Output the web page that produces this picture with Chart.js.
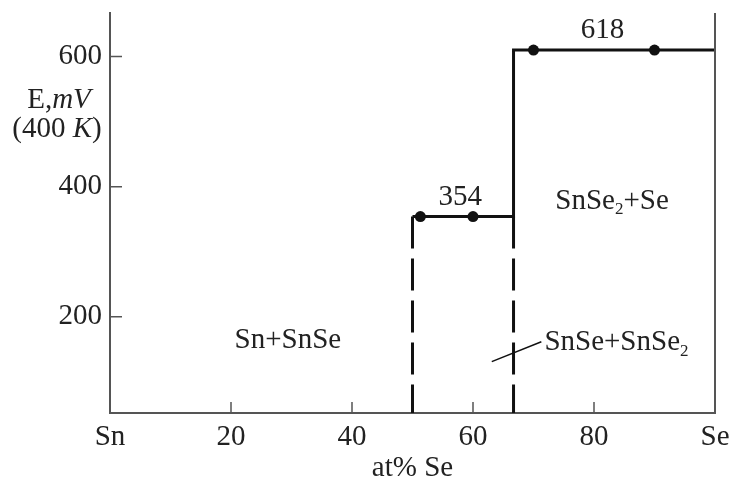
<!DOCTYPE html>
<html>
<head>
<meta charset="utf-8">
<script src="https://cdn.jsdelivr.net/npm/chart.js@4/dist/chart.umd.min.js"></script>
<style>
  body { margin: 0; background: #fff; }
  #wrap { width: 732px; height: 482px; }
</style>
</head>
<body>
<div id="wrap"><canvas id="myChart" width="732" height="482"></canvas></div>
<script>
// at% Se vs E (mV, 400 K)
const stepX = [50, 66.7, 66.7, 100];
const stepE = [354, 354, 610, 610];
const pointX = [51.3, 60, 70, 90];
const pointE = [354, 354, 610, 610];
const dashX = [50, 66.7];
const dashTopE = 354;
const xTicks = [0, 20, 40, 60, 80, 100];
const xTickLabels = ["Sn", "20", "40", "60", "80", "Se"];
const yTicks = [200, 400, 600];

const FONT = "'Liberation Serif', 'Times New Roman', serif";
const AXIS = "#555";
const INK = "#111";

// text placed in data units: [x, E, align, parts]
const notes = [
  [57.9, 383, "center", [{ t: "354" }]],
  [81.4, 640, "center", [{ t: "618" }]],
  [73.6, 378, "left", [{ t: "SnSe" }, { t: "2", sub: true }, { t: "+Se" }]],
  [29.4, 163, "center", [{ t: "Sn+SnSe" }]],
  [71.8, 161, "left", [{ t: "SnSe+SnSe" }, { t: "2", sub: true }]],
];
const pointer = [[63.1, 131], [71.3, 161.5]];

const datasets = [
  {
    data: stepX.map((x, i) => ({ x, y: stepE[i] })),
    borderColor: INK,
    borderWidth: 3,
    pointRadius: 0,
  },
  {
    data: pointX.map((x, i) => ({ x, y: pointE[i] })),
    showLine: false,
    pointRadius: 5.5,
    pointBackgroundColor: INK,
    pointBorderWidth: 0,
  },
];
dashX.forEach((x) => {
  datasets.push({
    data: [{ x, y: dashTopE }, { x, y: 52 }],
    borderColor: INK,
    borderWidth: 3,
    borderDash: [32, 10],
    pointRadius: 0,
  });
});

function drawParts(ctx, parts, x, y, align) {
  const big = "29px " + FONT;
  const small = "17px " + FONT;
  let w = 0;
  parts.forEach((p) => {
    ctx.font = p.sub ? small : (p.it ? "italic " : "") + big;
    w += ctx.measureText(p.t).width;
  });
  let cx = align === "center" ? x - w / 2 : x;
  ctx.textAlign = "left";
  ctx.textBaseline = "middle";
  parts.forEach((p) => {
    ctx.font = p.sub ? small : (p.it ? "italic " : "") + big;
    ctx.fillText(p.t, cx, p.sub ? y + 9 : y);
    cx += ctx.measureText(p.t).width;
  });
}

const extras = {
  id: "extras",
  afterDraw(chart) {
    const ctx = chart.ctx;
    const xs = chart.scales.x;
    const ys = chart.scales.y;
    const a = chart.chartArea;
    ctx.save();
    // right frame line
    ctx.strokeStyle = AXIS;
    ctx.lineWidth = 2;
    ctx.beginPath();
    ctx.moveTo(a.right, a.top);
    ctx.lineTo(a.right, a.bottom);
    ctx.stroke();
    // inward ticks
    ctx.lineWidth = 1.5;
    ctx.beginPath();
    xTicks.slice(1, -1).forEach((v) => {
      const px = xs.getPixelForValue(v);
      ctx.moveTo(px, a.bottom);
      ctx.lineTo(px, a.bottom - 11);
    });
    yTicks.forEach((v) => {
      const py = ys.getPixelForValue(v);
      ctx.moveTo(a.left, py);
      ctx.lineTo(a.left + 12, py);
    });
    ctx.stroke();
    // pointer line
    ctx.strokeStyle = INK;
    ctx.lineWidth = 1.5;
    ctx.beginPath();
    ctx.moveTo(xs.getPixelForValue(pointer[0][0]), ys.getPixelForValue(pointer[0][1]));
    ctx.lineTo(xs.getPixelForValue(pointer[1][0]), ys.getPixelForValue(pointer[1][1]));
    ctx.stroke();
    // labels
    ctx.fillStyle = "#222";
    notes.forEach(([x, e, align, parts]) => {
      drawParts(ctx, parts, xs.getPixelForValue(x), ys.getPixelForValue(e), align);
    });
    // y axis title
    drawParts(ctx, [{ t: "E," }, { t: "mV", it: true }], 59, 100, "center");
    drawParts(ctx, [{ t: "(400 " }, { t: "K", it: true }, { t: ")" }], 57, 129, "center");
    ctx.restore();
  },
};

const config = {
  type: "line",
  data: { datasets },
  options: {
    responsive: false,
    animation: false,
    layout: { padding: { top: 13, right: 17, left: 0, bottom: 0 } },
    plugins: { legend: { display: false }, tooltip: { enabled: false } },
    scales: {
      x: {
        type: "linear",
        min: 0,
        max: 100,
        afterBuildTicks: (s) => { s.ticks = xTicks.map((v) => ({ value: v })); },
        afterFit: (s) => { s.height = 69; s.paddingLeft = 0; s.paddingRight = 0; },
        grid: { display: false, drawTicks: false },
        border: { color: AXIS, width: 2 },
        ticks: {
          padding: 7,
          color: "#222",
          font: { family: FONT, size: 29 },
          maxRotation: 0,
          callback: (v) => xTickLabels[xTicks.indexOf(v)],
        },
        title: {
          display: true,
          text: "at% Se",
          color: "#222",
          font: { family: FONT, size: 29 },
          padding: { top: 0, bottom: -4 },
        },
      },
      y: {
        min: 52,
        max: 667,
        afterBuildTicks: (s) => { s.ticks = yTicks.map((v) => ({ value: v })); },
        afterFit: (s) => { s.width = 110; s.paddingTop = 0; s.paddingBottom = 0; },
        grid: { display: false, drawTicks: false },
        border: { color: AXIS, width: 2 },
        ticks: {
          padding: 8,
          color: "#222",
          font: { family: FONT, size: 29 },
        },
      },
    },
  },
  plugins: [extras],
};

const myChart = new Chart(document.getElementById("myChart"), config);
</script>
</body>
</html>
